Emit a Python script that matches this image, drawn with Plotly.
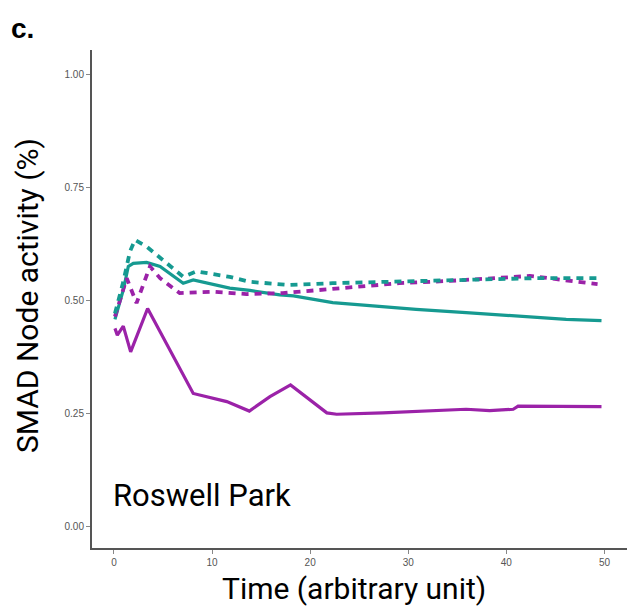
import plotly.graph_objects as go

# Simulated SMAD node activity over time (Roswell Park network)
teal_solid_t = [0.1, 0.95, 1.46, 1.97, 3.33, 4.7, 7.06, 8.08, 11.8, 13.85, 16.9, 18.3, 22.3, 26.1, 30.8, 35.9, 41.0, 46.1, 49.7]
teal_solid_v = [0.459, 0.524, 0.576, 0.583, 0.585, 0.576, 0.539, 0.546, 0.528, 0.523, 0.513, 0.511, 0.496, 0.489, 0.481, 0.474, 0.466, 0.459, 0.456]

teal_dash_t = [0.1, 0.95, 1.63, 2.14, 3.33, 5.37, 7.06, 8.4, 11.8, 13.85, 17.9, 22.3, 27.4, 32.5, 37.6, 42.7, 49.5]
teal_dash_v = [0.472, 0.542, 0.609, 0.635, 0.620, 0.583, 0.553, 0.565, 0.553, 0.542, 0.535, 0.539, 0.542, 0.545, 0.546, 0.550, 0.550]

mag_solid_t = [0.1, 0.34, 0.95, 1.7, 3.43, 8.08, 11.5, 13.8, 15.9, 18.0, 21.7, 22.7, 27.4, 30.8, 35.9, 38.3, 40.7, 41.2, 49.7]
mag_solid_v = [0.439, 0.424, 0.444, 0.387, 0.483, 0.295, 0.277, 0.256, 0.288, 0.314, 0.252, 0.249, 0.252, 0.255, 0.260, 0.257, 0.260, 0.267, 0.266]

mag_dash_t = [0.1, 1.3, 2.3, 3.67, 4.7, 6.7, 10.1, 13.5, 17.2, 20.6, 24.0, 29.1, 34.2, 39.3, 42.4, 45.1, 49.3]
mag_dash_v = [0.465, 0.550, 0.495, 0.576, 0.550, 0.517, 0.520, 0.515, 0.517, 0.523, 0.530, 0.539, 0.544, 0.550, 0.555, 0.548, 0.537]

x_ticks = [0, 10, 20, 30, 40, 50]
y_ticks = [0.00, 0.25, 0.50, 0.75, 1.00]
y_tick_text = ["0.00", "0.25", "0.50", "0.75", "1.00"]

TEAL = "#169a91"
MAGENTA = "#9b22a8"

fig = go.Figure()
fig.add_trace(go.Scatter(x=teal_solid_t, y=teal_solid_v, mode="lines",
                         line=dict(color=TEAL, width=3.2)))
fig.add_trace(go.Scatter(x=mag_solid_t, y=mag_solid_v, mode="lines",
                         line=dict(color=MAGENTA, width=3.2)))
fig.add_trace(go.Scatter(x=mag_dash_t, y=mag_dash_v, mode="lines",
                         line=dict(color=MAGENTA, width=3.8, dash="7px,6px")))
fig.add_trace(go.Scatter(x=teal_dash_t, y=teal_dash_v, mode="lines",
                         line=dict(color=TEAL, width=3.8, dash="7px,6px")))

axis_font = dict(family="Liberation Sans, Arial, sans-serif", size=10, color="#555555")

fig.update_layout(
    width=627, height=609,
    margin=dict(l=92, r=0, t=50, b=61),
    paper_bgcolor="white", plot_bgcolor="white",
    showlegend=False,
    xaxis=dict(range=[-2.24, 52.3], tickvals=x_ticks, ticks="outside", ticklen=4,
               tickcolor="#888888", showgrid=False, zeroline=False,
               showline=True, linecolor="#555555", linewidth=2,
               tickfont=axis_font),
    yaxis=dict(range=[-0.047, 1.055], tickvals=y_ticks, ticktext=y_tick_text,
               ticks="outside", ticklen=4, tickcolor="#888888", showgrid=False,
               zeroline=False, showline=True, linecolor="#555555", linewidth=2,
               tickfont=axis_font),
    annotations=[
        dict(text="<b>c.</b>", xref="paper", yref="paper", x=-0.155, y=1.044,
             xanchor="left", yanchor="middle", showarrow=False,
             font=dict(family="Liberation Sans, Arial, sans-serif", size=28, color="black")),
        dict(text="SMAD Node activity (%)", xref="paper", yref="paper",
             x=-0.1215, y=0.508, xanchor="center", yanchor="middle", textangle=-90,
             showarrow=False, font=dict(family="Roboto, sans-serif", size=30, color="black")),
        dict(text="Time (arbitrary unit)", xref="paper", yref="paper",
             x=0.489, y=-0.0815, xanchor="center", yanchor="middle",
             showarrow=False, font=dict(family="Roboto, sans-serif", size=30, color="black")),
        dict(text="Roswell Park", x=-0.3, y=0.07, xref="x", yref="y",
             xanchor="left", yanchor="middle", showarrow=False,
             font=dict(family="Roboto, sans-serif", size=31, color="black")),
    ],
)

fig.write_html("out.html")
